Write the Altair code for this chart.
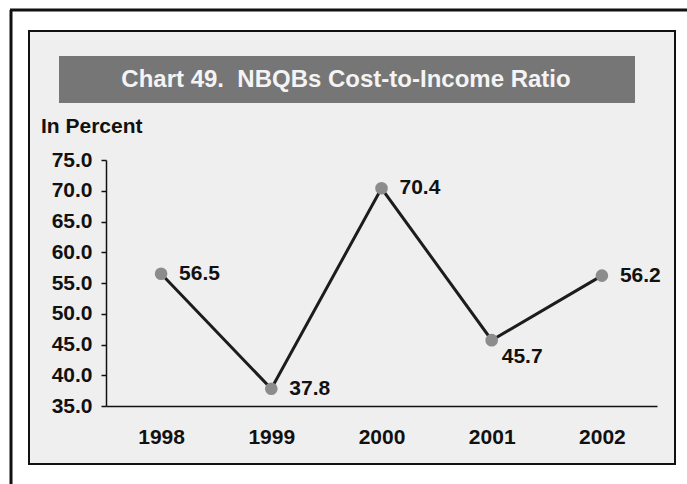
import altair as alt
import pandas as pd

# Data
years = ["1998", "1999", "2000", "2001", "2002"]
ratios = [56.5, 37.8, 70.4, 45.7, 56.2]
y_ticks = [35, 40, 45, 50, 55, 60, 65, 70, 75]
title_text = "Chart 49.\u00a0\u00a0NBQBs Cost-to-Income Ratio"
unit_text = "In Percent"

df = pd.DataFrame({"year": years, "ratio": ratios})
df["label"] = [f"{v:.1f}" for v in ratios]
one = pd.DataFrame({"a": [0]})

FONT = "Liberation Sans"
W, H = 551, 246

x_enc = alt.X("year:O", scale=alt.Scale(type="point", padding=0.5),
              axis=alt.Axis(title=None, labelAngle=0, ticks=False, labelFontSize=21,
                            labelFontWeight="bold", labelColor="#111111", labelPadding=20,
                            domainColor="#111111", domainWidth=1.5, labelFont=FONT, zindex=1))
y_enc = alt.Y("ratio:Q", scale=alt.Scale(domain=[35, 75], nice=False, zero=False),
              axis=alt.Axis(title=None, values=y_ticks, format=".1f", grid=False,
                            labelFontSize=21, labelFontWeight="bold", labelColor="#111111",
                            tickSize=5, tickColor="#111111", tickWidth=1.5, labelPadding=9,
                            domainColor="#111111", domainWidth=1.5, labelFont=FONT, zindex=1))

# Decorations (frame, banner)
inner_box = alt.Chart(one).mark_rect(fill="#efefef", stroke="#111111", strokeWidth=2).encode(
    x=alt.value(-77), x2=alt.value(569), y=alt.value(-129), y2=alt.value(304))
top_line = alt.Chart(one).mark_rule(color="#111111", strokeWidth=3).encode(
    x=alt.value(-96), x2=alt.value(581), y=alt.value(-150))
left_line = alt.Chart(one).mark_rule(color="#111111", strokeWidth=3).encode(
    x=alt.value(-95), y=alt.value(-150), y2=alt.value(324))
banner = alt.Chart(one).mark_rect(fill="#767676").encode(
    x=alt.value(-47), x2=alt.value(529), y=alt.value(-104), y2=alt.value(-57))
banner_text = alt.Chart(one).mark_text(
    text=title_text, font=FONT, fontSize=24, fontWeight="bold", color="#f4f4f4",
    align="center", baseline="middle").encode(x=alt.value(240), y=alt.value(-80))
unit = alt.Chart(one).mark_text(
    text=unit_text, font=FONT, fontSize=21, fontWeight="bold", color="#111111",
    align="left", baseline="alphabetic").encode(x=alt.value(-65), y=alt.value(-27))

base = alt.Chart(df)
line = base.mark_line(color="#1c1c1c", strokeWidth=3).encode(x=x_enc, y=y_enc)
points = base.mark_circle(color="#8c8c8c", size=160, opacity=1).encode(x=x_enc, y=y_enc)
labels = base.transform_filter(alt.datum.year != "2001").mark_text(
    font=FONT, fontSize=21, fontWeight="bold", color="#111111", align="left",
    baseline="middle", dx=18
).encode(x=x_enc, y=y_enc, text="label:N")
labels_below = base.transform_filter(alt.datum.year == "2001").mark_text(
    font=FONT, fontSize=21, fontWeight="bold", color="#111111", align="left",
    baseline="middle", dx=10, dy=17
).encode(x=x_enc, y=y_enc, text="label:N")

chart = alt.layer(inner_box, top_line, left_line, banner, banner_text, unit,
                  line, points, labels, labels_below).properties(
    width=W, height=H,
    autosize=alt.AutoSizeParams(type="none"),
    padding={"left": 106, "top": 160, "right": 30, "bottom": 78},
    background="white",
).configure_view(stroke=None)

chart.save("out.html", embed_options={"renderer": "svg", "actions": False})
